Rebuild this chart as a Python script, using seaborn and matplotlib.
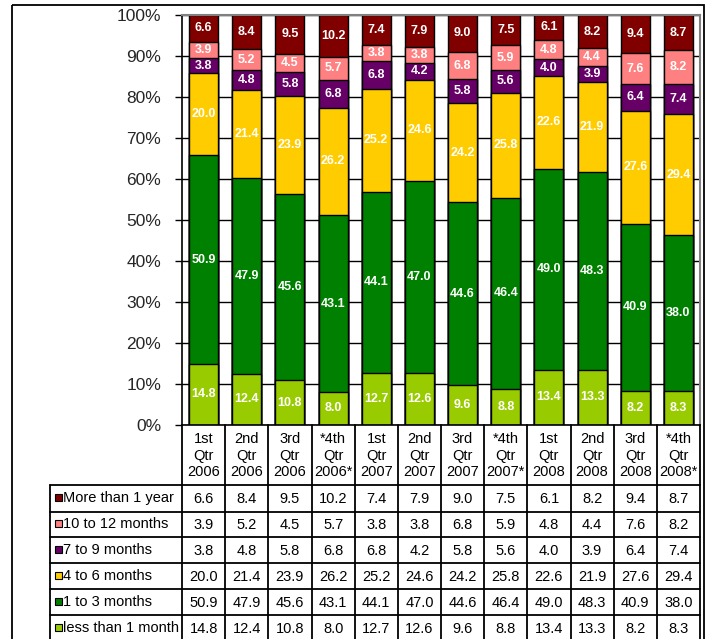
import matplotlib
matplotlib.use("Agg")
import matplotlib.pyplot as plt
import matplotlib.transforms as mtransforms
from matplotlib.patches import Rectangle
import numpy as np
import pandas as pd
import seaborn as sns

# Quarter labels (also the table header)
quarters = ["1st\nQtr\n2006", "2nd\nQtr\n2006", "3rd\nQtr\n2006", "*4th\nQtr\n2006*",
            "1st\nQtr\n2007", "2nd\nQtr\n2007", "3rd\nQtr\n2007", "*4th\nQtr\n2007*",
            "1st\nQtr\n2008", "2nd\nQtr\n2008", "3rd\nQtr\n2008", "*4th\nQtr\n2008*"]

# Duration categories, top of the stack first
series_names = ["More than 1 year", "10 to 12 months", "7 to 9 months",
                "4 to 6 months", "1 to 3 months", "less than 1 month"]
series_colors = ["#800000", "#FF8080", "#660066", "#FFCC00", "#008000", "#99CC00"]

more_than_1_year = [6.6, 8.4, 9.5, 10.2, 7.4, 7.9, 9.0, 7.5, 6.1, 8.2, 9.4, 8.7]
months_10_to_12 = [3.9, 5.2, 4.5, 5.7, 3.8, 3.8, 6.8, 5.9, 4.8, 4.4, 7.6, 8.2]
months_7_to_9 = [3.8, 4.8, 5.8, 6.8, 6.8, 4.2, 5.8, 5.6, 4.0, 3.9, 6.4, 7.4]
months_4_to_6 = [20.0, 21.4, 23.9, 26.2, 25.2, 24.6, 24.2, 25.8, 22.6, 21.9, 27.6, 29.4]
months_1_to_3 = [50.9, 47.9, 45.6, 43.1, 44.1, 47.0, 44.6, 46.4, 49.0, 48.3, 40.9, 38.0]
less_than_1_month = [14.8, 12.4, 10.8, 8.0, 12.7, 12.6, 9.6, 8.8, 13.4, 13.3, 8.2, 8.3]

series_values = [more_than_1_year, months_10_to_12, months_7_to_9,
                 months_4_to_6, months_1_to_3, less_than_1_month]

sns.set_theme(style="white")
plt.rcParams["font.family"] = ["Liberation Sans", "DejaVu Sans"]

W, H = 709, 639
fig = plt.figure(figsize=(W / 100, H / 100), dpi=100)

# Plot area in pixel coordinates
px_left, px_right, px_top, px_bottom = 182, 700, 14.7, 424.7
ax = fig.add_axes([px_left / W, (H - px_bottom) / H,
                   (px_right - px_left) / W, (px_bottom - px_top) / H])

# 100% stacked: normalise each quarter, stack from the bottom series up
vals = np.array(series_values)            # rows: top -> bottom
totals = vals.sum(axis=0)
pct = vals / totals * 100
stack_bottom_up = pct[::-1]
cum = np.cumsum(stack_bottom_up, axis=0)  # cumulative from bottom
bottoms = cum - stack_bottom_up

# Draw the tallest cumulative bar first so shorter ones overlay it
for k in range(len(series_names) - 1, -1, -1):
    idx = len(series_names) - 1 - k     # index into top->bottom lists
    df = pd.DataFrame({"quarter": quarters, "cum": cum[k]})
    sns.barplot(data=df, x="quarter", y="cum", order=quarters,
                color=series_colors[idx], saturation=1, width=0.67,
                edgecolor="black", linewidth=1.0, ax=ax, zorder=2)

# Segment value labels
for k in range(len(series_names)):
    idx = len(series_names) - 1 - k
    for i in range(len(quarters)):
        y = bottoms[k][i] + stack_bottom_up[k][i] / 2
        ax.text(i, y, f"{series_values[idx][i]:.1f}", ha="center", va="center",
                color="white", fontsize=9, fontweight="bold", zorder=5)

ax.set_ylim(0, 100)
ax.set_xlim(-0.5, len(quarters) - 0.5)
ax.set_yticks(range(0, 101, 10))
ax.set_yticklabels([f"{t}%" for t in range(0, 101, 10)], fontsize=12.5)
ax.set_xticks([])
ax.set_xlabel("")
ax.set_ylabel("")
ax.tick_params(axis="y", direction="out", length=5, width=1, color="black",
               left=True, pad=10)
ax.yaxis.grid(True, color="black", linewidth=1.0)
ax.set_axisbelow(True)
for side in ["top", "right"]:
    ax.spines[side].set_color("#808080")
    ax.spines[side].set_linewidth(1.5)
for side in ["left", "bottom"]:
    ax.spines[side].set_color("black")
    ax.spines[side].set_linewidth(1.2)

# Overlay in pixel coordinates for the data table and outer frame
ov = fig.add_axes([0, 0, 1, 1], zorder=10)
ov.set_xlim(0, W)
ov.set_ylim(H, 0)
ov.axis("off")
ov.patch.set_alpha(0)

# x in category units, y in pixels
tr = mtransforms.blended_transform_factory(ax.transData, ov.transData)

lw_tab = 1.3
header_top, header_bottom = px_bottom, 485
row_edges = [485, 511.5, 537.3, 563.3, 589, 615, 641]
label_left = 50

# Column separators
for k in range(len(quarters) + 1):
    ov.plot([k - 0.5, k - 0.5], [header_top, 645], color="black",
            lw=lw_tab, transform=tr, clip_on=False)
# Row separators
for y in row_edges:
    ov.plot([label_left, px_right], [y, y], color="black", lw=lw_tab, clip_on=False)
ov.plot([label_left, label_left], [row_edges[0], 645], color="black", lw=lw_tab,
        clip_on=False)

# Header text
for i, q in enumerate(quarters):
    ov.text(i, (header_top + header_bottom) / 2 + 1, q, transform=tr,
            ha="center", va="center", fontsize=10.5, linespacing=1.22,
            multialignment="center", color="black")

# Rows: legend key, series name, values
for r, (name, color, values) in enumerate(zip(series_names, series_colors, series_values)):
    yc = (row_edges[r] + row_edges[r + 1]) / 2
    ov.add_patch(Rectangle((55, yc - 4.5), 7, 7, facecolor=color,
                           edgecolor="black", lw=0.8))
    ov.text(63, yc, name, ha="left", va="center", fontsize=10.5, color="black")
    for i, v in enumerate(values):
        ov.text(i, yc + 1, f"{v:.1f}", transform=tr, ha="center", va="center",
                fontsize=10.5, color="black")

# Outer chart frame
ov.add_patch(Rectangle((12, 5), 692, 660, fill=False, edgecolor="black",
                       lw=1.3, clip_on=False))

fig.savefig("out.png", dpi=100)
